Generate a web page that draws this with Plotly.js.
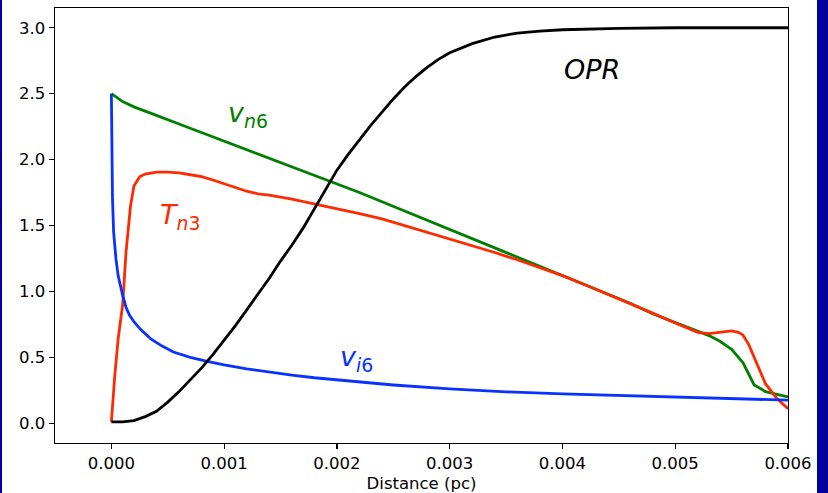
<!DOCTYPE html>
<html>
<head>
<meta charset="utf-8">
<script src="https://cdn.plot.ly/plotly-3.0.1.min.js"></script>
<style>
  html, body { margin:0; padding:0; background:#00009e; width:828px; height:493px; overflow:hidden; }
  #wrap { position:absolute; left:2px; top:0; width:815px; height:493px; background:#ffffff; }
  #chart { width:815px; height:493px; }
</style>
</head>
<body>
<div id="wrap"><div id="chart"></div></div>
<script>
// OPR (black)
const oprX = [0,0.0001,0.0002,0.0003,0.0004,0.0005,0.0006,0.0007,0.0008,0.0009,0.001,0.0011,0.0012,0.0013,0.0014,0.0015,0.0016,0.0017,0.0018,0.0019,0.002,0.0021,0.0022,0.0023,0.0024,0.0025,0.0026,0.0027,0.0028,0.0029,0.003,0.0032,0.0034,0.0036,0.0038,0.004,0.0045,0.005,0.006];
const oprY = [0.01,0.01,0.02,0.05,0.09,0.16,0.24,0.33,0.42,0.52,0.63,0.74,0.86,0.98,1.10,1.23,1.35,1.48,1.63,1.78,1.92,2.04,2.15,2.26,2.36,2.46,2.55,2.63,2.70,2.76,2.81,2.88,2.93,2.96,2.975,2.985,2.995,3.0,3.0];

// v_n6 (green)
const vn6X = [0,0.00005,0.0001,0.0002,0.0003,0.0004,0.0006,0.0008,0.001,0.0012,0.0014,0.0016,0.0018,0.002,0.0022,0.0024,0.0026,0.0028,0.003,0.0032,0.0034,0.0036,0.0038,0.004,0.0042,0.0044,0.0046,0.0048,0.005,0.0052,0.0053,0.0054,0.0055,0.0056,0.00565,0.0057,0.0058,0.0059,0.006];
const vn6Y = [2.50,2.47,2.44,2.40,2.365,2.335,2.27,2.205,2.14,2.075,2.01,1.945,1.885,1.82,1.75,1.68,1.61,1.54,1.47,1.40,1.33,1.26,1.19,1.12,1.05,0.98,0.91,0.83,0.765,0.70,0.665,0.62,0.56,0.46,0.37,0.29,0.24,0.22,0.20];

// T_n3 (red)
const tn3X = [0,0.00001,0.00003,0.00006,0.0001,0.00013,0.00017,0.0002,0.00025,0.0003,0.0004,0.0005,0.0006,0.0007,0.0008,0.0009,0.001,0.0011,0.0012,0.0013,0.0014,0.0016,0.0018,0.002,0.0022,0.0024,0.0026,0.0028,0.003,0.0032,0.0034,0.0036,0.0038,0.004,0.0042,0.0044,0.0046,0.0048,0.005,0.0052,0.0053,0.0054,0.0055,0.00556,0.0056,0.00565,0.0057,0.00575,0.0058,0.0059,0.006];
const tn3Y = [0.01,0.15,0.36,0.64,0.90,1.30,1.65,1.80,1.87,1.89,1.905,1.905,1.90,1.885,1.87,1.845,1.815,1.785,1.76,1.74,1.73,1.70,1.665,1.63,1.59,1.55,1.50,1.45,1.40,1.35,1.295,1.24,1.18,1.12,1.05,0.98,0.91,0.835,0.76,0.69,0.68,0.69,0.70,0.69,0.67,0.60,0.50,0.40,0.30,0.19,0.11];

// v_i6 (blue)
const vi6X = [0,0.000003,0.000006,0.00001,0.00002,0.00004,0.00006,0.00008,0.0001,0.00013,0.00016,0.0002,0.00026,0.00035,0.00045,0.00055,0.0007,0.00085,0.001,0.0012,0.0014,0.0016,0.0018,0.002,0.0025,0.003,0.0035,0.004,0.0045,0.005,0.0055,0.006];
const vi6Y = [2.50,2.2,1.95,1.7,1.45,1.25,1.12,1.03,0.97,0.88,0.82,0.77,0.71,0.64,0.585,0.54,0.50,0.47,0.443,0.413,0.387,0.365,0.345,0.328,0.29,0.26,0.238,0.222,0.21,0.20,0.19,0.175];

const xTicks = [0,0.001,0.002,0.003,0.004,0.005,0.006];
const xTickText = ["0.000","0.001","0.002","0.003","0.004","0.005","0.006"];
const yTicks = [0,0.5,1.0,1.5,2.0,2.5,3.0];
const yTickText = ["0.0","0.5","1.0","1.5","2.0","2.5","3.0"];

const mk = (x,y,c) => ({x:x, y:y, type:'scatter', mode:'lines', line:{color:c, width:2.8}, hoverinfo:'skip', showlegend:false});
const traces = [
  mk(vn6X, vn6Y, '#008000'),
  mk(tn3X, tn3Y, '#ff2a00'),
  mk(vi6X, vi6Y, '#0a32ff'),
  mk(oprX, oprY, '#000000')
];

const fnt = {family:'DejaVu Sans, sans-serif', size:16.5, color:'#000'};
const annFont = (c) => ({family:'DejaVu Sans, sans-serif', size:27, color:c});

const layout = {
  width:815, height:493,
  margin:{l:53, r:29, t:7.5, b:50, pad:0, autoexpand:false},
  paper_bgcolor:'rgba(0,0,0,0)', plot_bgcolor:'#ffffff',
  showlegend:false,
  xaxis:{range:[-0.0005,0.006], tickvals:xTicks, ticktext:xTickText, ticks:'outside', ticklen:5, tickwidth:1.2, tickcolor:'#000',
         showline:true, linecolor:'#000', linewidth:1.4, mirror:true, showgrid:false, zeroline:false, tickfont:fnt,
         title:{text:'Distance (pc)', font:fnt, standoff:7}},
  yaxis:{range:[-0.15,3.15], tickvals:yTicks, ticktext:yTickText, ticks:'outside', ticklen:5, tickwidth:1.2, tickcolor:'#000',
         showline:true, linecolor:'#000', linewidth:1.4, mirror:true, showgrid:false, zeroline:false, tickfont:fnt},
  annotations:[
    {x:0.00426, y:2.68, xref:'x', yref:'y', text:'<i>OPR</i>', showarrow:false, font:annFont('#000')},
    {x:0.00121, y:2.34, xref:'x', yref:'y', text:'<i>v</i><sub><i>n</i>6</sub>', showarrow:false, font:annFont('#008000')},
    {x:0.00061, y:1.57, xref:'x', yref:'y', text:'<i>T</i><sub><i>n</i>3</sub>', showarrow:false, font:annFont('#ff2a00')},
    {x:0.00217, y:0.49, xref:'x', yref:'y', text:'<i>v</i><sub><i>i</i>6</sub>', showarrow:false, font:annFont('#0a32ff')}
  ]
};

Plotly.newPlot('chart', traces, layout, {staticPlot:true, displayModeBar:false});
</script>
</body>
</html>
